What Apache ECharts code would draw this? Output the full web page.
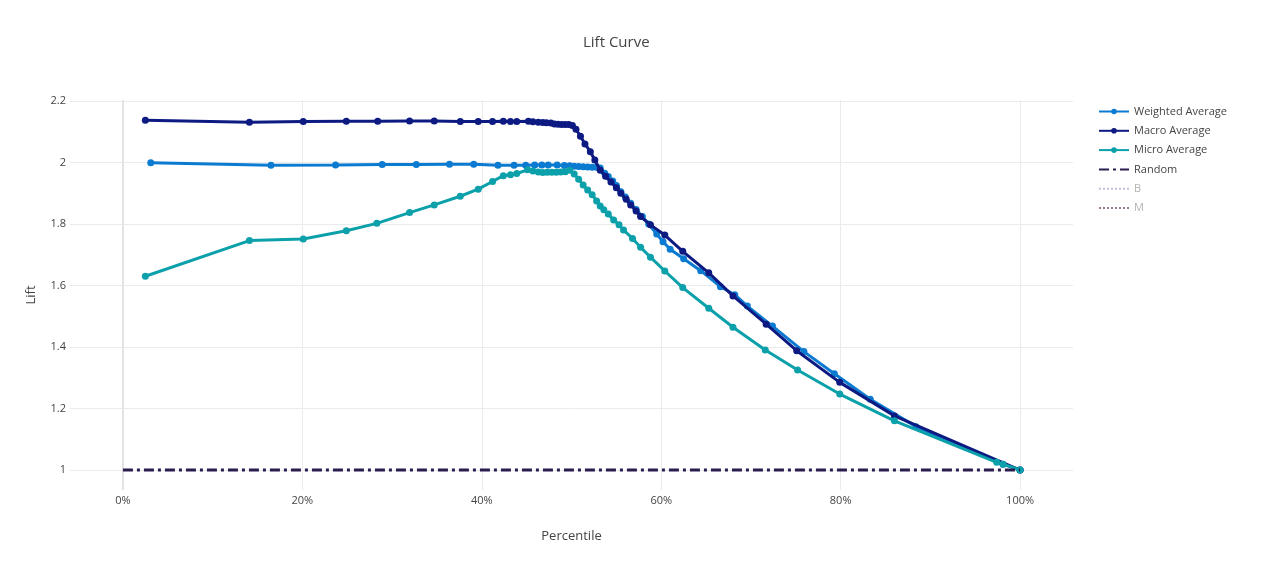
<!DOCTYPE html>
<html>
<head>
<meta charset="utf-8">
<script src="https://cdn.jsdelivr.net/npm/echarts@6/dist/echarts.min.js"></script>
<style>
html,body{margin:0;padding:0;background:#fff;}
#chart{width:1268px;height:576px;}
</style>
</head>
<body>
<div id="chart"></div>
<script>
// ---- data (percentile %, lift) ----
var weightedX = [3.1,16.5,23.7,28.9,32.7,36.4,39.1,41.8,43.6,44.9,45.9,46.7,47.4,48.4,49.2,49.8,50.3,50.8,51.3,51.8,52.3,52.8,53.2,53.7,54.1,54.6,55.0,55.5,56.0,56.6,57.2,57.9,58.6,59.5,60.2,61.0,62.5,64.4,66.6,68.2,69.6,72.4,75.9,79.3,83.3,88.4,98.1,100];
var weightedY = [1.999,1.991,1.992,1.993,1.993,1.994,1.994,1.991,1.991,1.991,1.992,1.992,1.992,1.992,1.990,1.989,1.988,1.987,1.986,1.985,1.984,1.984,1.982,1.965,1.954,1.940,1.925,1.905,1.888,1.867,1.847,1.824,1.800,1.767,1.742,1.718,1.687,1.648,1.596,1.570,1.533,1.468,1.385,1.313,1.230,1.141,1.019,1.000];

var macroX = [2.5,14.1,20.1,24.9,28.4,31.95,34.7,37.6,39.6,41.2,42.4,43.2,43.9,45.2,45.7,46.3,46.8,47.2,47.7,48.1,48.5,48.9,49.3,49.7,50.1,50.5,51.0,51.5,52.1,52.6,53.2,53.8,54.4,55.0,55.5,56.1,56.6,57.2,57.7,58.8,60.4,62.4,65.3,68.0,71.7,75.1,79.9,86.0,100];
var macroY = [2.137,2.131,2.133,2.134,2.134,2.135,2.135,2.133,2.133,2.133,2.134,2.133,2.133,2.134,2.132,2.131,2.130,2.129,2.128,2.125,2.124,2.123,2.123,2.123,2.120,2.108,2.085,2.060,2.035,2.008,1.975,1.955,1.936,1.918,1.900,1.880,1.862,1.842,1.824,1.797,1.764,1.711,1.641,1.566,1.474,1.388,1.285,1.176,1.000];

var microX = [2.5,14.1,20.1,24.9,28.3,31.95,34.7,37.6,39.6,41.2,42.4,43.2,43.9,45.1,45.7,46.3,46.8,47.3,47.8,48.3,48.8,49.3,49.8,50.3,50.8,51.3,51.8,52.3,52.8,53.2,53.6,54.1,54.7,55.3,55.8,56.8,57.7,58.8,60.4,62.4,65.3,68.0,71.6,75.2,79.9,86.0,97.4,98.1,100];
var microY = [1.630,1.746,1.751,1.778,1.802,1.837,1.862,1.890,1.913,1.938,1.957,1.960,1.964,1.976,1.972,1.969,1.967,1.968,1.968,1.968,1.969,1.970,1.975,1.962,1.945,1.927,1.910,1.895,1.875,1.858,1.846,1.832,1.813,1.797,1.780,1.753,1.724,1.692,1.647,1.593,1.526,1.464,1.390,1.325,1.247,1.160,1.025,1.019,1.000];

var randomX = [0,100];
var randomY = [1,1];

var xTicks = [0,20,40,60,80,100];
var yTicks = [1,1.2,1.4,1.6,1.8,2,2.2];

function pairs(xs, ys){ return xs.map(function(x,i){ return [x, ys[i]]; }); }

var FONT = '"Open Sans", "Liberation Sans", sans-serif';
var TXT = '#444';

var chart = echarts.init(document.getElementById('chart'), null, {renderer:'canvas'});
chart.setOption({
  animation:false,
  backgroundColor:'#fff',
  title:{
    text:'Lift Curve', left:578, top:30,
    textStyle:{fontFamily:FONT, fontSize:15, fontWeight:'normal', color:TXT}
  },
  legend:{
    orient:'vertical', left:1098, top:106, padding:0,
    itemWidth:30, itemHeight:7, itemGap:8.3,
    textStyle:{fontFamily:FONT, fontSize:11, color:TXT},
    data:[
      {name:'Weighted Average'},
      {name:'Macro Average'},
      {name:'Micro Average'},
      {name:'Random', itemStyle:{opacity:0}},
      {name:'B', itemStyle:{opacity:0}, textStyle:{color:'#b4b4b4'}},
      {name:'M', itemStyle:{opacity:0}, textStyle:{color:'#b4b4b4'}}
    ]
  },
  grid:{left:70, right:195, top:100, bottom:86, containLabel:false},
  xAxis:{
    type:'value', min:-5.9, max:105.9,
    name:'Percentile', nameLocation:'middle', nameGap:40,
    nameTextStyle:{fontFamily:FONT, fontSize:13, color:TXT},
    axisLine:{show:false}, axisTick:{show:false, customValues:xTicks},
    axisLabel:{customValues:xTicks, formatter:function(v){return v+'%';}, fontFamily:FONT, fontSize:11, color:TXT, margin:5},
    splitLine:{show:false}
  },
  yAxis:{
    type:'value', min:0.935, max:2.203,
    name:'Lift', nameLocation:'middle', nameGap:32,
    nameTextStyle:{fontFamily:FONT, fontSize:13, color:TXT},
    axisLine:{show:false}, axisTick:{show:false, customValues:yTicks},
    axisLabel:{customValues:yTicks, formatter:function(v){return String(+v.toFixed(1));}, fontFamily:FONT, fontSize:11, color:TXT, margin:4},
    splitLine:{show:false}
  },
  series:[
    {
      name:'grid', type:'line', data:[], silent:true, z:0, zlevel:0,
      markLine:{
        silent:true, symbol:'none', label:{show:false}, animation:false, z:0,
        data: xTicks.filter(function(v){return v!==0;}).map(function(v){return {xAxis:v, lineStyle:{color:'#ebebeb', width:1, type:'solid'}};})
          .concat(yTicks.map(function(v){return {yAxis:v, lineStyle:{color:'#ebebeb', width:1, type:'solid'}};}))
          .concat([{xAxis:0, lineStyle:{color:'#e4e4e4', width:2, type:'solid'}}])
      }
    },
    {
      name:'Weighted Average', type:'line', data:pairs(weightedX, weightedY), z:3,
      symbol:'circle', symbolSize:7, color:'#0b7bd1',
      lineStyle:{width:3, color:'#0b7bd1'}, itemStyle:{color:'#0b7bd1'}
    },
    {
      name:'Macro Average', type:'line', data:pairs(macroX, macroY), z:4,
      symbol:'circle', symbolSize:7, color:'#0c1a82',
      lineStyle:{width:3, color:'#0c1a82'}, itemStyle:{color:'#0c1a82'}
    },
    {
      name:'Micro Average', type:'line', data:pairs(microX, microY), z:5,
      symbol:'circle', symbolSize:7, color:'#0ba0aa',
      lineStyle:{width:3, color:'#0ba0aa'}, itemStyle:{color:'#0ba0aa'}
    },
    {
      name:'Random', type:'line', data:pairs(randomX, randomY), z:6,
      symbol:'none', color:'#2a1c4e',
      lineStyle:{width:3, color:'#2a1c4e', type:[10,4,3,4]}
    },
    {
      name:'B', type:'line', data:[], symbol:'none', color:'#c6bce2', z:6,
      lineStyle:{width:3, color:'#c6bce2', type:'dotted'}
    },
    {
      name:'M', type:'line', data:[], symbol:'none', color:'#9f7693', z:6,
      lineStyle:{width:3, color:'#9f7693', type:'dotted'}
    }
  ]
});
</script>
</body>
</html>
